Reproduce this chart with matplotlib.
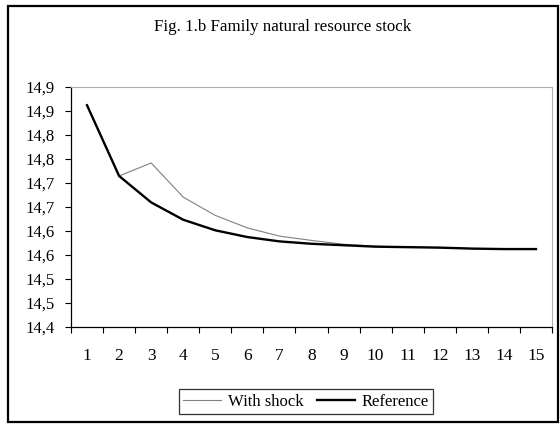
import numpy as np
import matplotlib.pyplot as plt
from matplotlib.patches import Rectangle

plt.rcParams['font.family'] = ['Liberation Serif', 'DejaVu Serif']

periods = list(range(1, 16))
with_shock = [14.861, 14.714, 14.741, 14.670, 14.632, 14.606, 14.589, 14.580,
              14.572, 14.568, 14.566, 14.565, 14.563, 14.562, 14.562]
reference = [14.861, 14.714, 14.659, 14.623, 14.601, 14.587, 14.578, 14.573,
             14.570, 14.567, 14.566, 14.565, 14.563, 14.562, 14.562]
yticks = [14.40, 14.45, 14.50, 14.55, 14.60, 14.65, 14.70, 14.75, 14.80, 14.85, 14.90]
ylabels = ["14,4", "14,5", "14,5", "14,6", "14,6", "14,7", "14,7", "14,8", "14,8", "14,9", "14,9"]

fig = plt.figure(figsize=(5.6, 4.24), dpi=100)
ax = fig.add_axes([71/560, 1-327/424, (552-71)/560, (327-86.5)/424])

# cadre externe
fig.patches.append(Rectangle((8/560, 1-422/424), (558-8)/560, (422-5.5)/424,
                             transform=fig.transFigure, fill=False,
                             edgecolor='black', linewidth=1.6))

x = np.arange(len(periods))
ax.plot(x, with_shock, color='#808080', lw=0.8, label='With shock')
ax.plot(x, reference, color='black', lw=1.7, label='Reference')

ax.set_xlim(-0.5, len(periods)-0.5)
ax.set_ylim(14.40, 14.90)
ax.set_yticks(yticks)
ax.set_yticklabels(ylabels, fontsize=12)
ax.set_xticks(x)
ax.set_xticklabels([str(p) for p in periods], fontsize=12.5)
ax.set_xticks(np.arange(-0.5, len(periods), 1), minor=True)
ax.tick_params(axis='x', which='major', length=0, pad=15)
ax.tick_params(axis='x', which='minor', length=4, direction='out', width=0.8)
ax.tick_params(axis='y', length=4, direction='out', width=0.8, pad=8)

for s in ['top', 'right']:
    ax.spines[s].set_color('#b0b0b0')
    ax.spines[s].set_linewidth(0.8)
for s in ['left', 'bottom']:
    ax.spines[s].set_color('black')
    ax.spines[s].set_linewidth(0.9)

fig.text(283/560, 1-27/424, "Fig. 1.b Family natural resource stock",
         ha='center', va='center', fontsize=12.2)

leg = fig.legend(loc='center', bbox_to_anchor=(306/560, 1-401.5/424), ncol=2,
                 fontsize=12, frameon=True, fancybox=False, edgecolor='black',
                 handlelength=2.3, handletextpad=0.4, columnspacing=0.8,
                 borderpad=0.25)
leg.get_frame().set_linewidth(0.9)

fig.savefig('out.png', dpi=100)
